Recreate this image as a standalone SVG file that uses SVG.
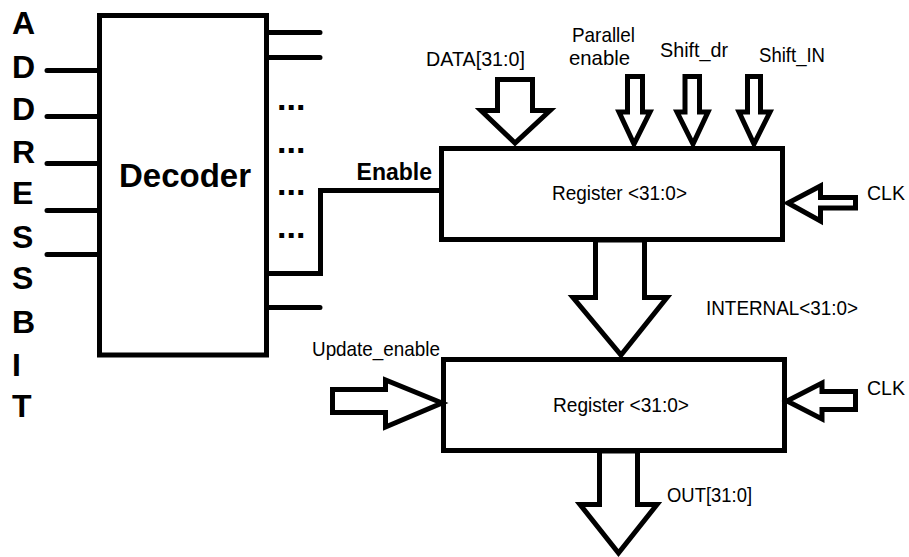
<svg xmlns="http://www.w3.org/2000/svg" width="909" height="557" viewBox="0 0 909 557">
<style>
.box{fill:#fff;stroke:#000;stroke-width:5}
.wire{fill:none;stroke:#000;stroke-width:5;stroke-linecap:round;stroke-linejoin:miter}
.arr{fill:#fff;stroke:#000;stroke-width:5;stroke-linejoin:miter}
.t{font-family:"Liberation Sans",Arial,sans-serif;font-size:21px;fill:#000}
.b{font-family:"Liberation Sans",Arial,sans-serif;font-weight:bold;fill:#000}
</style>
<rect width="909" height="557" fill="#fff"/>
<g id="address-label">
<text class="b" font-size="32" x="12" y="34">A</text>
<text class="b" font-size="32" x="12" y="78">D</text>
<text class="b" font-size="32" x="12" y="120">D</text>
<text class="b" font-size="32" x="12" y="163">R</text>
<text class="b" font-size="32" x="12" y="204">E</text>
<text class="b" font-size="32" x="12" y="248">S</text>
<text class="b" font-size="32" x="12" y="289">S</text>
<text class="b" font-size="32" x="12" y="333">B</text>
<text class="b" font-size="32" x="12" y="376">I</text>
<text class="b" font-size="32" x="12" y="417">T</text>
</g>
<g id="connectors">
<path class="wire" d="M47 70.5H99M47 116.5H99M47 163.5H101M47 210.5H99M47 254.5H101"/>
<path class="wire" d="M266 32.5H320M266 57.5H320M266 307.5H320"/>
<path class="wire" d="M266 273.5H320.5V190.5H441" style="stroke-linecap:butt"/>
</g>
<g id="decoder">
<rect class="box" x="99.5" y="15.5" width="167" height="339.5"/>
<text class="b" font-size="33" x="185" y="187" text-anchor="middle">Decoder</text>
<text class="b" font-size="34" x="277" y="110">...</text>
<text class="b" font-size="34" x="277" y="153">...</text>
<text class="b" font-size="34" x="277" y="195">...</text>
<text class="b" font-size="34" x="277" y="238">...</text>
</g>
<g id="enable-label">
<text class="b" font-size="23" x="432" y="180" text-anchor="end">Enable</text>
</g>
<g id="register1">
<rect class="box" x="441.5" y="148.5" width="341" height="91"/>
<text class="t" x="552" y="200" textLength="135" lengthAdjust="spacingAndGlyphs">Register &lt;31:0&gt;</text>
</g>
<g id="register2">
<rect class="box" x="443.5" y="359.5" width="341" height="91"/>
<text class="t" x="553" y="412" textLength="136" lengthAdjust="spacingAndGlyphs">Register &lt;31:0&gt;</text>
</g>
<g id="data-in">
<polygon class="arr" points="497.5,79.5 532.5,79.5 532.5,110.5 550,110.5 515,143 481,110.5 497.5,110.5"/>
<text class="t" x="426" y="66" textLength="99" lengthAdjust="spacingAndGlyphs">DATA[31:0]</text>
</g>
<g id="parallel-enable">
<polygon class="arr" points="627.5,76.5 642.5,76.5 642.5,112 650,112 634,144 619,112 627.5,112"/>
<text class="t" x="572" y="42" textLength="63" lengthAdjust="spacingAndGlyphs">Parallel</text>
<text class="t" x="569" y="65" textLength="61" lengthAdjust="spacingAndGlyphs">enable</text>
</g>
<g id="shift-dr">
<polygon class="arr" points="685,76.5 699.5,76.5 699.5,112 708,112 693,144 677,112 685,112"/>
<text class="t" x="660" y="57" textLength="68" lengthAdjust="spacingAndGlyphs">Shift_dr</text>
</g>
<g id="shift-in">
<polygon class="arr" points="747.5,76.5 760.5,76.5 760.5,112 770,112 754,144 739,112 747.5,112"/>
<text class="t" x="759" y="62" textLength="66" lengthAdjust="spacingAndGlyphs">Shift_IN</text>
</g>
<g id="clk1">
<polygon class="arr" points="855.5,197.5 855.5,208 820.5,208 820.5,221 788,203 820.5,186 820.5,197.5"/>
<text class="t" x="867" y="200" textLength="38" lengthAdjust="spacingAndGlyphs">CLK</text>
</g>
<g id="internal">
<polygon class="arr" points="595.5,240 644.5,240 644.5,297.5 667,297.5 621,355 573,297.5 595.5,297.5"/>
<text class="t" x="706" y="315" textLength="152" lengthAdjust="spacingAndGlyphs">INTERNAL&lt;31:0&gt;</text>
</g>
<g id="update-enable">
<polygon class="arr" points="332.5,389.5 385.5,389.5 385.5,380 442,403 385.5,427 385.5,412.5 332.5,412.5"/>
<text class="t" x="312" y="356" textLength="128" lengthAdjust="spacingAndGlyphs">Update_enable</text>
</g>
<g id="clk2">
<polygon class="arr" points="855.5,391.5 855.5,409.5 822,409.5 822,419 787,401 822,383 822,391.5"/>
<text class="t" x="867" y="395" textLength="38" lengthAdjust="spacingAndGlyphs">CLK</text>
</g>
<g id="out">
<polygon class="arr" points="599.5,451 637.5,451 637.5,504.5 657,504.5 618.5,553 580,504.5 599.5,504.5"/>
<text class="t" x="667" y="502" textLength="85" lengthAdjust="spacingAndGlyphs">OUT[31:0]</text>
</g>
</svg>
